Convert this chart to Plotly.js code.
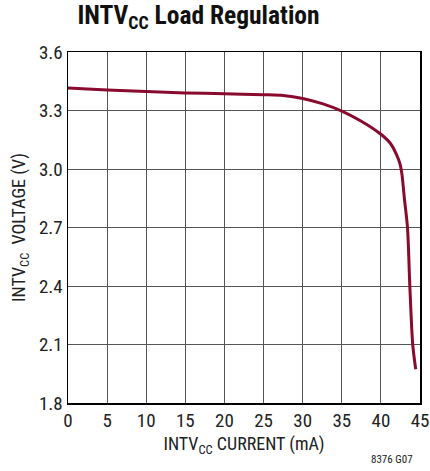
<!DOCTYPE html>
<html><head><meta charset="utf-8">
<script src="https://cdn.plot.ly/plotly-3.0.1.min.js"></script>
<style>body{margin:0;background:#fff}#c{width:430px;height:471px}</style>
</head><body><div id="c"></div>
<script>
const currentMA = [0, 5, 10, 15, 20, 25, 27.5, 30, 32.5, 35, 37.5, 40, 41.2, 42.0, 42.45, 42.7, 43.0, 43.4, 43.7, 44.07, 44.45];
const voltageV  = [3.415, 3.405, 3.397, 3.39, 3.386, 3.381, 3.377, 3.362, 3.335, 3.297, 3.245, 3.178, 3.132, 3.074, 3.025, 2.97, 2.85, 2.7, 2.4, 2.1, 1.973];
const xTicks = [0, 5, 10, 15, 20, 25, 30, 35, 40, 45];
const yTicks = [1.8, 2.1, 2.4, 2.7, 3.0, 3.3, 3.6];
const yTickText = ['1.8', '2.1', '2.4', '2.7', '3.0', '3.3', '3.6'];

const fontFam = '"Liberation Sans Narrow", "Roboto Condensed", "Liberation Sans", Arial, sans-serif';

Plotly.newPlot('c', [{
  x: currentMA, y: voltageV, type: 'scatter', mode: 'lines',
  line: {color: '#8a0a2e', width: 3, shape: 'spline', smoothing: 0.8},
  hoverinfo: 'skip'
}], {
  width: 430, height: 471,
  margin: {l: 68, r: 10, t: 52, b: 68},
  paper_bgcolor: '#fff', plot_bgcolor: '#fff',
  showlegend: false,
  font: {family: fontFam, color: '#222', size: 19},
  title: {text: '<b>INTV<sub>CC</sub> Load Regulation</b>', x: 0.18, xanchor: 'left', y: 0.988, yanchor: 'top',
          font: {family: fontFam, size: 25.5, color: '#111'}},
  xaxis: {range: [0, 45], tickvals: xTicks, ticktext: xTicks.map(String), showgrid: true, gridcolor: '#555', gridwidth: 1,
          zeroline: false, showline: true, linecolor: '#000', linewidth: 1.5, mirror: true, ticks: '',
          tickfont: {size: 19, color: '#222'},
          title: {text: 'INTV<sub>CC</sub> CURRENT (mA)', standoff: 6, font: {size: 18, color: '#222'}}},
  yaxis: {range: [1.8, 3.6], tickvals: yTicks, ticktext: yTickText, showgrid: true, gridcolor: '#555', gridwidth: 1,
          zeroline: false, showline: true, linecolor: '#000', linewidth: 1.5, mirror: true, ticks: '',
          tickfont: {size: 19, color: '#222'},
          title: {text: 'INTV<sub>CC</sub>  VOLTAGE (V)', standoff: 8, font: {size: 18, color: '#222'}}},
  annotations: [{text: '8376 G07', xref: 'paper', yref: 'paper', x: 0.987, y: -0.138, xanchor: 'right', yanchor: 'top',
                 showarrow: false, font: {size: 11, color: '#222', family: fontFam}}]
}, {displayModeBar: false, staticPlot: true});
</script></body></html>
